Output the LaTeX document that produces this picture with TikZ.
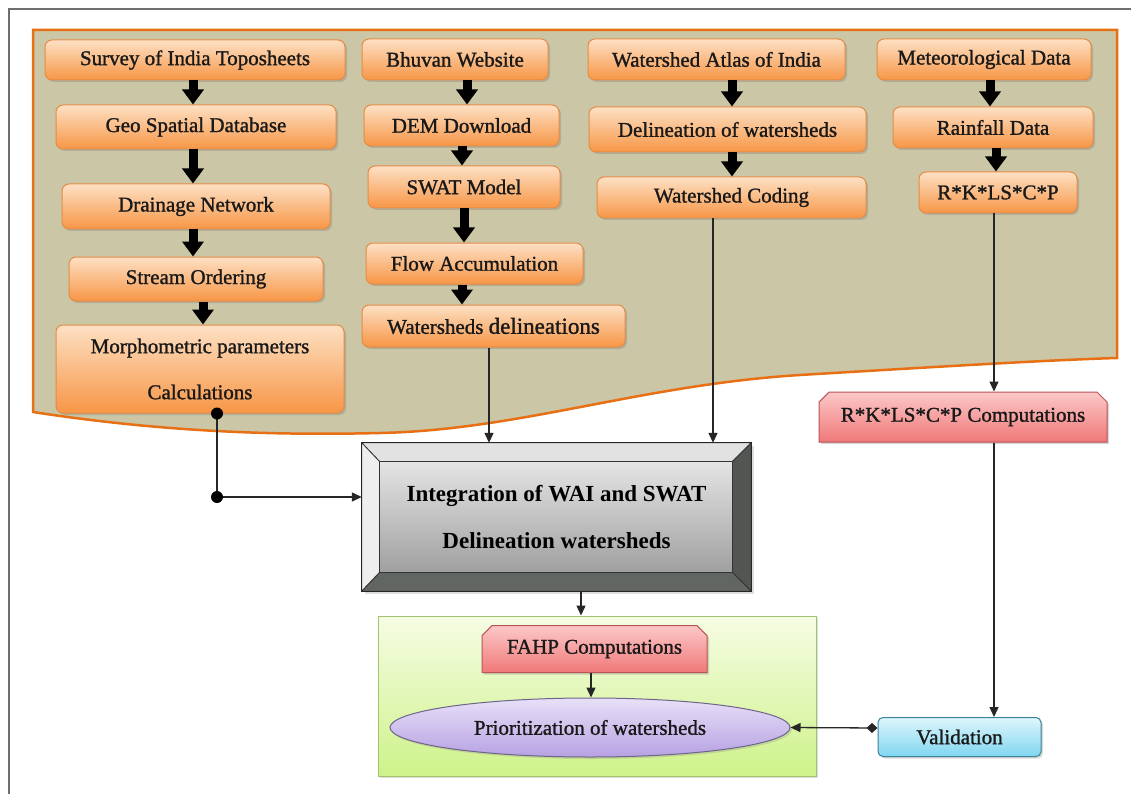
\documentclass[tikz,border=0pt]{standalone}
\usepackage{fontspec}
\setmainfont{Liberation Serif}
\newfontfamily\boxfont[FakeBold=1.2]{Liberation Serif}
\usetikzlibrary{arrows.meta,shapes.misc,shapes.geometric,shadows,calc}

\definecolor{khaki}{RGB}{203,198,165}
\definecolor{orline}{RGB}{232,112,20}
\definecolor{ortop}{RGB}{253,224,196}
\definecolor{orbot}{RGB}{247,150,70}
\definecolor{boxline}{RGB}{228,140,70}
\definecolor{pktop}{RGB}{252,200,200}
\definecolor{pkbot}{RGB}{240,120,120}
\definecolor{pkline}{RGB}{185,85,85}
\definecolor{cytop}{RGB}{222,246,252}
\definecolor{cybot}{RGB}{128,214,240}
\definecolor{cyline}{RGB}{60,130,150}
\definecolor{grtop}{RGB}{246,252,228}
\definecolor{grbot}{RGB}{206,242,138}
\definecolor{grline}{RGB}{160,195,110}
\definecolor{lvtop}{RGB}{232,224,248}
\definecolor{lvbot}{RGB}{182,162,226}
\definecolor{lvline}{RGB}{110,100,140}
\definecolor{frame}{RGB}{110,110,110}

\tikzset{
  txt/.style={font=\boxfont\fontsize{21}{25}\selectfont, text={rgb,255:red,25;green,25;blue,25}, align=center, inner sep=0pt},
  obox/.style={txt, rectangle, rounded corners=7pt, draw=boxline, line width=1pt,
    top color=ortop, bottom color=orbot,
    drop shadow={shadow xshift=2pt, shadow yshift=-2pt, opacity=0.35}},
  pbox/.style={txt, chamfered rectangle, chamfered rectangle corners={north west,north east},
    chamfered rectangle xsep=7pt, draw=pkline, line width=1pt, top color=pktop, bottom color=pkbot,
    drop shadow={shadow xshift=2pt, shadow yshift=-2pt, opacity=0.3}},
  cbox/.style={txt, rectangle, rounded corners=5pt, draw=cyline, line width=1pt,
    top color=cytop, bottom color=cybot,
    drop shadow={shadow xshift=2pt, shadow yshift=-2pt, opacity=0.3}},
  blk/.style={draw=black, line width=9pt, -{Triangle[length=15pt 0 0, width=21pt 0 0]}},
  thin/.style={draw=black!85, line width=1.3pt, -{Triangle[length=10pt 0 0, width=9pt 0 0]}},
  plain/.style={draw=black!85, line width=1.3pt},
  dot/.style={circle, fill=black, inner sep=0pt, minimum size=12pt},
}

\begin{document}
\begin{tikzpicture}[x=1pt,y=-1pt]
\useasboundingbox (0,0) rectangle (1131,794);
\fill[white] (0,0) rectangle (1131,794);
\draw[frame, line width=2pt] (9,900) -- (9,9) -- (1300,9);

% wave background
\draw[orline, line width=2.5pt, fill=khaki] (33,412) -- (33,30) -- (1117,30) -- (1117,358)
  .. controls (1050,360) and (950,366) .. (800,375)
  .. controls (640,385) and (520,430) .. (380,433)
  .. controls (260,436) and (150,430) .. (33,412) -- cycle;

% column 1
\node[obox, minimum width=300pt, minimum height=40pt] (s1) at (195,60) {Survey of India Toposheets};
\node[obox, minimum width=280pt, minimum height=44pt] (s2) at (196,127) {Geo Spatial Database};
\node[obox, minimum width=268pt, minimum height=45pt] (s3) at (196,206.5) {Drainage Network};
\node[obox, minimum width=254pt, minimum height=44pt] (s4) at (196,279) {Stream Ordering};
\node[obox, minimum width=288pt, minimum height=88pt] (s5) at (200,369) {Morphometric parameters\\[21pt]Calculations};

% column 2
\node[obox, minimum width=186pt, minimum height=41pt] (b1) at (455,59.5) {Bhuvan Website};
\node[obox, minimum width=195pt, minimum height=41pt] (b2) at (461.5,125.5) {DEM Download};
\node[obox, minimum width=192pt, minimum height=42pt] (b3) at (464,187) {SWAT Model};
\node[obox, minimum width=217pt, minimum height=41pt] (b4) at (474.5,263.5) {Flow Accumulation};
\node[obox, minimum width=263pt, minimum height=42pt] (b5) at (493.5,326) {Watersheds {\fontsize{23}{26}\selectfont delineations}};

% column 3
\node[obox, minimum width=257pt, minimum height=41pt] (a1) at (716.5,59.5) {Watershed Atlas of India};
\node[obox, minimum width=277pt, minimum height=45pt] (a2) at (727.5,129.5) {Delineation of watersheds};
\node[obox, minimum width=269pt, minimum height=41pt] (a3) at (731.5,197.5) {Watershed Coding};

% column 4
\node[obox, minimum width=214pt, minimum height=41pt] (m1) at (984,59.5) {Meteorological Data};
\node[obox, minimum width=200pt, minimum height=41pt] (m2) at (993,127.5) {Rainfall Data};
\node[obox, minimum width=158pt, minimum height=41pt] (m3) at (998,192.5) {R*K*LS*C*P};

% thick arrows
\draw[blk] ([xshift=-2pt]s1.south) -- ([xshift=-3pt]s2.north);
\draw[blk] ([xshift=-3pt]s2.south) -- ([xshift=-3pt]s3.north);
\draw[blk] ([xshift=-3pt]s3.south) -- ([xshift=-3pt]s4.north);
\draw[blk] ([xshift=7pt]s4.south) -- ([xshift=3pt]s5.north);
\draw[blk] ([xshift=12pt]b1.south) -- ([xshift=5.5pt]b2.north);
\draw[blk] ([xshift=0.5pt]b2.south) -- ([xshift=-2pt]b3.north);
\draw[blk] ([xshift=0pt]b3.south) -- ([xshift=-10.5pt]b4.north);
\draw[blk] ([xshift=-12.5pt]b4.south) -- ([xshift=-31.5pt]b5.north);
\draw[blk] ([xshift=15.5pt]a1.south) -- ([xshift=4.5pt]a2.north);
\draw[blk] ([xshift=4.5pt]a2.south) -- ([xshift=0.5pt]a3.north);
\draw[blk] ([xshift=6pt]m1.south) -- ([xshift=-3pt]m2.north);
\draw[blk] ([xshift=3pt]m2.south) -- ([xshift=-2pt]m3.north);

% integration bevel box
\path node[minimum width=389pt, minimum height=148pt, inner sep=0pt] (integ) at (556.5,517) {};
\coordinate (iNW) at ([shift={(18,19)}]integ.north west);
\coordinate (iNE) at ([shift={(-19,19)}]integ.north east);
\coordinate (iSE) at ([shift={(-19,-19)}]integ.south east);
\coordinate (iSW) at ([shift={(18,-19)}]integ.south west);
\fill[black!25, opacity=0.5] ([shift={(3,3)}]integ.north west) rectangle ([shift={(3,3)}]integ.south east);
\filldraw[draw=black!80, line width=0.8pt, fill={rgb,255:red,226;green,226;blue,226}] (integ.north west) -- (integ.north east) -- (iNE) -- (iNW) -- cycle;
\filldraw[draw=black!80, line width=0.8pt, fill={rgb,255:red,238;green,238;blue,238}] (integ.north west) -- (iNW) -- (iSW) -- (integ.south west) -- cycle;
\filldraw[draw=black!80, line width=0.8pt, fill={rgb,255:red,82;green,86;blue,82}] (integ.north east) -- (integ.south east) -- (iSE) -- (iNE) -- cycle;
\filldraw[draw=black!80, line width=0.8pt, fill={rgb,255:red,98;green,102;blue,98}] (integ.south west) -- (iSW) -- (iSE) -- (integ.south east) -- cycle;
\shade[top color={rgb,255:red,228;green,228;blue,228}, bottom color={rgb,255:red,160;green,160;blue,160}] (iNW) rectangle (iSE);
\draw[black!80, line width=0.8pt] (iNW) rectangle (iSE);
\draw[black!85, line width=1.3pt] (integ.north west) rectangle (integ.south east);
\node[font=\bfseries\fontsize{23}{27}\selectfont, align=center, inner sep=0pt] (integtext) at ([yshift=0pt]integ.center) {Integration of WAI and SWAT\\[20pt]Delineation watersheds};

% pink computations box
\node[pbox, minimum width=288pt, minimum height=50pt] (rkc) at (963,417) {R*K*LS*C*P Computations};

% green box and contents
\node[draw=grline, line width=1pt, top color=grtop, bottom color=grbot, minimum width=438pt, minimum height=160pt, inner sep=0pt,
  drop shadow={shadow xshift=2pt, shadow yshift=-2pt, opacity=0.25}] (green) at (597,696) {};
\node[pbox, minimum width=225pt, minimum height=47pt] (fahp) at (594.5,649) {FAHP Computations};
\node[txt, ellipse, draw=lvline, line width=1pt, top color=lvtop, bottom color=lvbot, minimum width=400pt, minimum height=59pt,
  drop shadow={shadow xshift=2pt, shadow yshift=-2pt, opacity=0.25}] (ell) at (590,727.5) {Prioritization of watersheds};
\node[cbox, minimum width=163pt, minimum height=39pt] (val) at (959.5,737) {Validation};

% thin connectors
\coordinate (bend) at (217,497);
\draw[plain] (bend |- s5.south) -- (bend);
\draw[thin] (bend) -- (bend -| integ.west);
\node[dot] (d1) at (bend |- s5.south) {};
\node[dot] (d2) at (bend) {};

\draw[thin] ([xshift=-4.5pt]b5.south) -- ([xshift=-4.5pt]b5.south |- integ.north);
\draw[thin] ([xshift=-18.5pt]a3.south) -- ([xshift=-18.5pt]a3.south |- integ.north);
\draw[thin] ([xshift=-4pt]m3.south) -- ([xshift=-4pt]m3.south |- rkc.north);
\draw[thin] ([xshift=31pt]rkc.south) -- ([xshift=31pt]rkc.south |- val.north);
\draw[thin] ([xshift=24.5pt]integ.south) -- ([xshift=24.5pt]integ.south |- green.north);
\draw[thin] ([xshift=-3.5pt]fahp.south) -- ([xshift=-3.5pt]fahp.south |- ell.north);
\draw[draw=black!85, line width=1.3pt, {Diamond[length=11pt 0 0, width=10pt 0 0]}-{Triangle[length=10pt 0 0, width=9pt 0 0]}]
  ([yshift=9pt]val.west) -- (ell.east);
\end{tikzpicture}
\end{document}
